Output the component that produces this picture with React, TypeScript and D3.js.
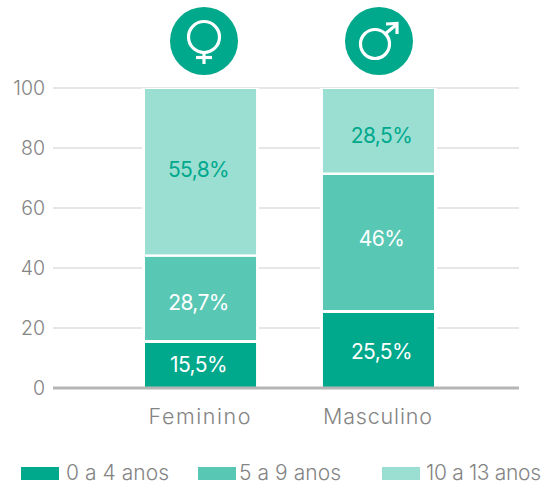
import React from "react";
import * as d3 from "d3";

const categories = ["Feminino", "Masculino"];
const seriesNames = ["0 a 4 anos", "5 a 9 anos", "10 a 13 anos"];
const colors = ["#00a88c", "#58c7b4", "#9adfd2"];
const labelColors = ["#ffffff", "#ffffff", "#00a88c"];
const age0to4 = [15.5, 25.5];
const age5to9 = [28.7, 46];
const age10to13 = [55.8, 28.5];
const labels0to4 = ["15,5%", "25,5%"];
const labels5to9 = ["28,7%", "46%"];
const labels10to13 = ["55,8%", "28,5%"];
const labelShift = [[0, 2], [4, -4], [-2, 5]];
const labelShiftX = [-2, 3];
const yTicks = [0, 20, 40, 60, 80, 100];

const font = "Inter, 'Noto Sans', sans-serif";
const gray = "#848484";

export default function App() {
  const y = d3.scaleLinear().domain([0, 100]).range([388, 88]);
  const x = d3.scaleBand<string>().domain(categories).range([145, 434]).paddingInner(0.376).paddingOuter(0);
  const rows = categories.map((c, i) => ({ c, a: age0to4[i], b: age5to9[i], d: age10to13[i] }));
  const stack = d3.stack<any>().keys(["a", "b", "d"]).order(d3.stackOrderNone).offset(d3.stackOffsetNone)(rows);
  const allLabels = [labels0to4, labels5to9, labels10to13];
  const legendX = [21, 198, 382];
  const legendTextX = [66, 239, 426];
  const legendLen = [103, 102, 115];
  const catLen = [102, 109];
  return (
    <svg width={545} height={485} style={{ position: "absolute", left: 0, top: 0 }} fontFamily={font}>
      {yTicks.map((t) => (
        <g key={t}>
          {t > 0 && <line x1={53} x2={519} y1={y(t)} y2={y(t)} stroke="#dedede" strokeWidth={1.4} />}
          <text x={45} y={y(t) + 7} textAnchor="end" fontSize={19.5} fill={gray} fontWeight={300}>{t}</text>
        </g>
      ))}
      {stack.map((s, si) => s.map((d, i) => {
        const c = categories[i];
        const top = y(Math.min(d[1], 100));
        const bot = y(d[0]);
        return (
          <g key={si + c}>
            <rect x={x(c)! - 3} y={top} width={x.bandwidth() + 6} height={bot - top} fill="#fff" />
            <rect x={x(c)} y={top + (si === 2 ? 1 : 1.5)} width={x.bandwidth()} height={bot - top - (si === 2 ? 2 : 3) + (si === 0 ? 1.5 : 0)} fill={colors[si]} />
            <text x={x(c)! + x.bandwidth() / 2 + labelShiftX[i]} y={(top + bot) / 2 + 7.5 + labelShift[si][i]} textAnchor="middle" fontSize={21} letterSpacing={-0.6} fill={labelColors[si]}>{allLabels[si][i]}</text>
          </g>
        );
      }))}
      <line x1={53} x2={519} y1={388} y2={388} stroke="#b5b5b5" strokeWidth={2.8} />
      {categories.map((c, i) => (
        <text key={c} x={x(c)! + x.bandwidth() / 2 - 1} y={424} textAnchor="middle" fontSize={21.5} fontWeight={300} fill={gray} textLength={catLen[i]} lengthAdjust="spacing">{c}</text>
      ))}
      {seriesNames.map((n, i) => (
        <g key={n}>
          <rect x={legendX[i]} y={467} width={38} height={13} fill={colors[i]} />
          <text x={legendTextX[i]} y={480} fontSize={21} fontWeight={300} fill={gray} textLength={legendLen[i]} lengthAdjust="spacing">{n}</text>
        </g>
      ))}
      <circle cx={204} cy={41} r={34} fill="#00a88c" />
      <g fill="none" stroke="#fff" strokeWidth={3.2}>
        <circle cx={204} cy={37} r={15.5} />
        <line x1={204} y1={52} x2={204} y2={64} />
        <line x1={196} y1={57.5} x2={212} y2={57.5} />
      </g>
      <circle cx={379} cy={41} r={34} fill="#00a88c" />
      <g fill="none" stroke="#fff" strokeWidth={3.2}>
        <circle cx={375} cy={44} r={14.5} />
        <line x1={385} y1={34} x2={396} y2={25} />
        <polyline points="386,24 397,23.5 397,34" />
      </g>
    </svg>
  );
}
